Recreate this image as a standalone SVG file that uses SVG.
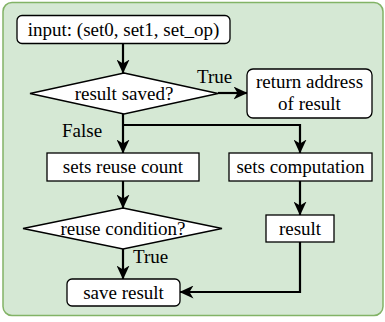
<svg xmlns="http://www.w3.org/2000/svg" width="385" height="322" viewBox="0 0 385 322">
<defs>
<style>
.bg{fill:#d5e8d4;stroke:#82b366;stroke-width:1.5}
.box{fill:#fff;stroke:#000;stroke-width:1.3}
text{font-family:'Liberation Serif','Times New Roman','DejaVu Serif',serif;font-size:19px;fill:#000}
.t{text-anchor:middle}
.c{fill:none;stroke:#000;stroke-width:2.2}
</style>
<marker id="ah" viewBox="0 0 14 13" refX="13.5" refY="6.5" markerWidth="14" markerHeight="13" markerUnits="userSpaceOnUse" orient="auto">
<path d="M0,0 L14,6.5 L0,13 L4,6.5 Z" fill="#000"/>
</marker>
</defs>
<rect class="bg" x="3" y="2.5" width="380" height="313" rx="9"/>

<g id="connectors">
<path class="c" d="M123,43 V73" marker-end="url(#ah)"/>
<path class="c" d="M218,93 H247" marker-end="url(#ah)"/>
<path class="c" d="M123,114 V153" marker-end="url(#ah)"/>
<path class="c" d="M123,125 H300 V153" marker-end="url(#ah)"/>
<path class="c" d="M123,181 V208" marker-end="url(#ah)"/>
<path class="c" d="M123,249 V279" marker-end="url(#ah)"/>
<path class="c" d="M300,181 V215" marker-end="url(#ah)"/>
<path class="c" d="M300,242 V292 H180" marker-end="url(#ah)"/>
<text x="197" y="83">True</text>
<text x="62" y="137">False</text>
<text x="133" y="263">True</text>
</g>

<g id="input">
<rect class="box" x="17" y="15.5" width="213" height="28" rx="5"/>
<text class="t" x="123.5" y="35.5">input: (set0, set1, set_op)</text>
</g>
<g id="result-saved">
<polygon class="box" points="124,73 218,93.5 124,114 30,93.5"/>
<text class="t" x="124" y="100">result saved?</text>
</g>
<g id="return-address">
<rect class="box" x="247" y="69" width="125" height="49" rx="6"/>
<text class="t" x="309.5" y="88">return address</text>
<text class="t" x="309.5" y="110">of result</text>
</g>
<g id="sets-reuse-count">
<rect class="box" x="47" y="153" width="152" height="28"/>
<text class="t" x="123" y="173">sets reuse count</text>
</g>
<g id="sets-computation">
<rect class="box" x="229" y="153" width="143" height="28"/>
<text class="t" x="300.5" y="173">sets computation</text>
</g>
<g id="reuse-condition">
<polygon class="box" points="123,208 222,228.5 123,249 23,228.5"/>
<text class="t" x="123" y="235">reuse condition?</text>
</g>
<g id="result">
<rect class="box" x="266" y="215" width="68" height="27"/>
<text class="t" x="300" y="235">result</text>
</g>
<g id="save-result">
<rect class="box" x="67" y="279" width="113" height="27" rx="5"/>
<text class="t" x="123.5" y="299">save result</text>
</g>
</svg>
